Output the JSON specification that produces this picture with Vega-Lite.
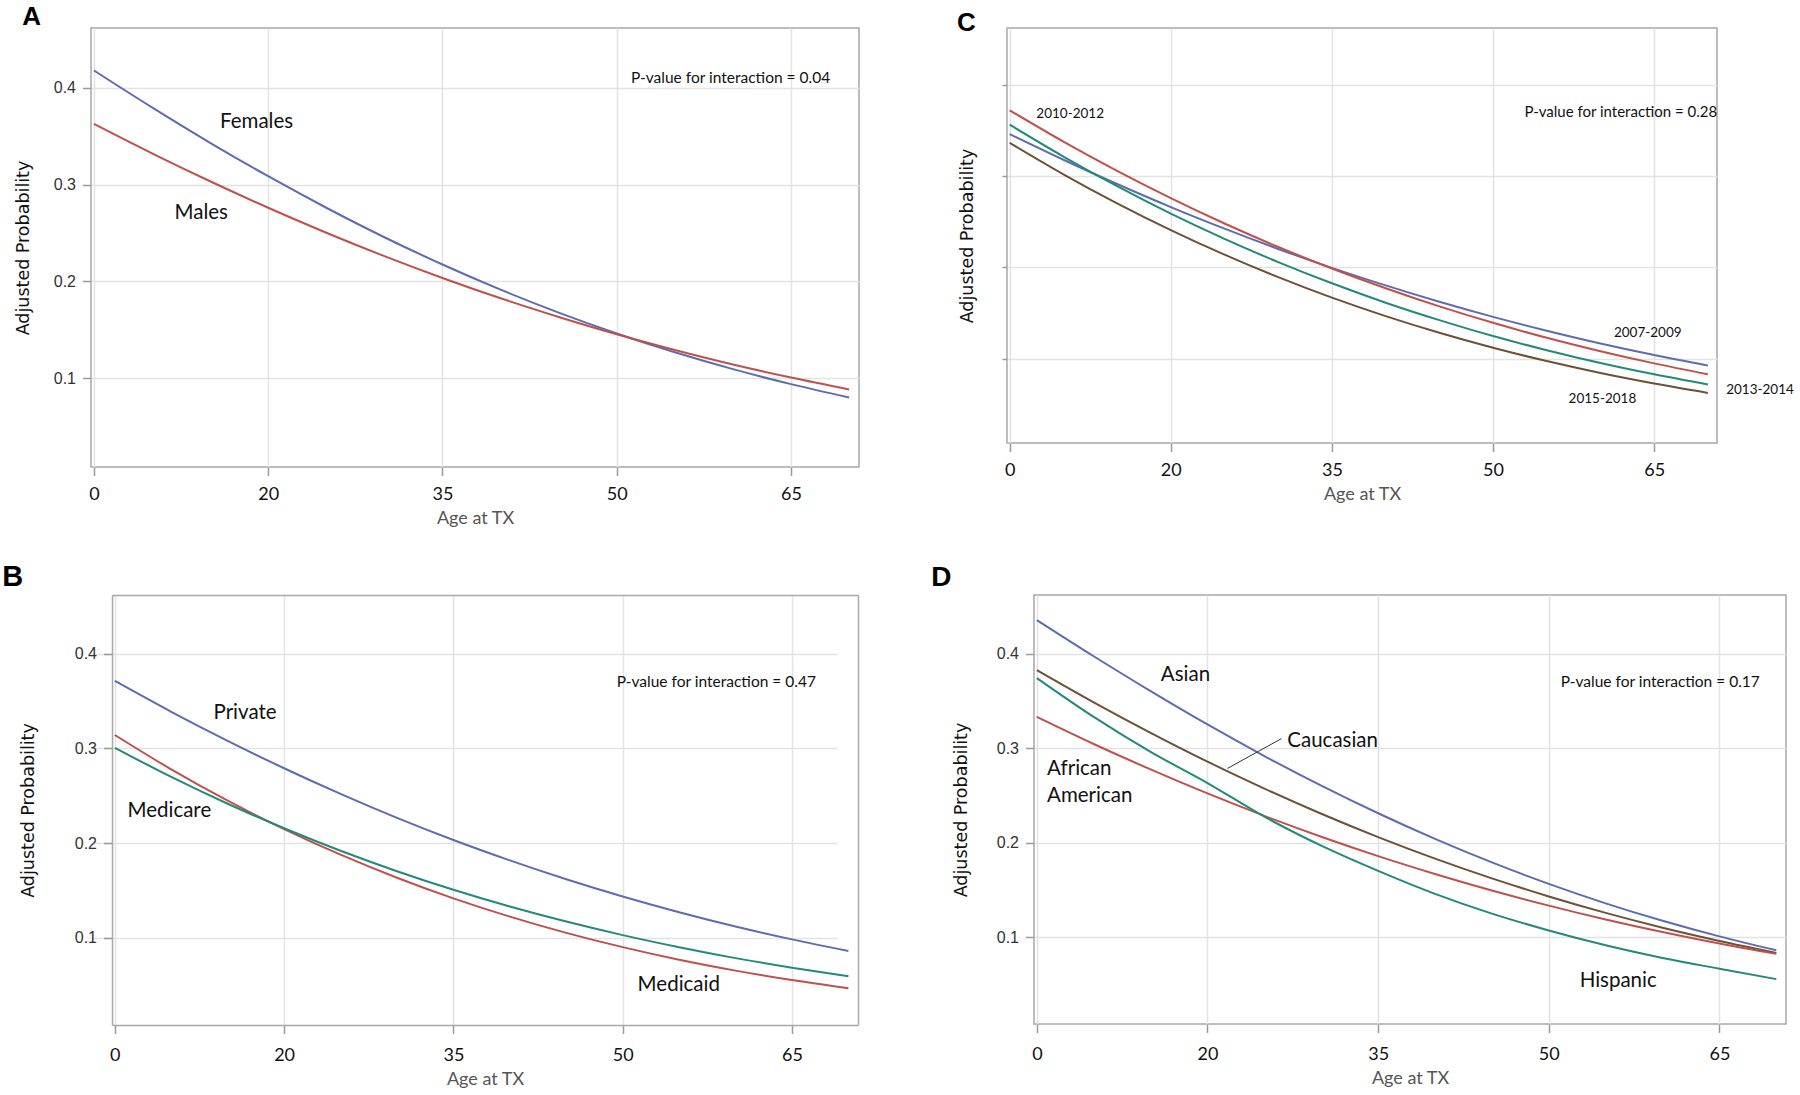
{
  "$schema": "https://vega.github.io/schema/vega-lite/v6.json",
  "background": "white",
  "padding": {"left": 2, "top": 3, "right": 0, "bottom": 0},
  "datasets": {
    "A": [
      {"age": 5, "Females": 0.4181, "Males": 0.3628},
      {"age": 10, "Females": 0.3799, "Males": 0.3324},
      {"age": 15, "Females": 0.3433, "Males": 0.3035},
      {"age": 20, "Females": 0.3087, "Males": 0.2761},
      {"age": 25, "Females": 0.2761, "Males": 0.2503},
      {"age": 30, "Females": 0.2456, "Males": 0.2261},
      {"age": 35, "Females": 0.2174, "Males": 0.2035},
      {"age": 40, "Females": 0.1914, "Males": 0.1825},
      {"age": 45, "Females": 0.1677, "Males": 0.1632},
      {"age": 50, "Females": 0.1461, "Males": 0.1453},
      {"age": 55, "Females": 0.1266, "Males": 0.1290},
      {"age": 60, "Females": 0.1092, "Males": 0.1140},
      {"age": 65, "Females": 0.0937, "Males": 0.1005},
      {"age": 70, "Females": 0.0799, "Males": 0.0882}
    ],
    "B": [
      {"age": 5, "Private": 0.3713, "Medicaid": 0.3142, "Medicare": 0.3007},
      {"age": 10, "Private": 0.3387, "Medicaid": 0.2779, "Medicare": 0.2699},
      {"age": 15, "Private": 0.3080, "Medicaid": 0.2448, "Medicare": 0.2416},
      {"age": 20, "Private": 0.2791, "Medicaid": 0.2149, "Medicare": 0.2157},
      {"age": 25, "Private": 0.2520, "Medicaid": 0.1878, "Medicare": 0.1920},
      {"age": 30, "Private": 0.2267, "Medicaid": 0.1635, "Medicare": 0.1704},
      {"age": 35, "Private": 0.2033, "Medicaid": 0.1417, "Medicare": 0.1508},
      {"age": 40, "Private": 0.1818, "Medicaid": 0.1224, "Medicare": 0.1331},
      {"age": 45, "Private": 0.1619, "Medicaid": 0.1053, "Medicare": 0.1172},
      {"age": 50, "Private": 0.1437, "Medicaid": 0.0902, "Medicare": 0.1029},
      {"age": 55, "Private": 0.1271, "Medicaid": 0.0769, "Medicare": 0.0901},
      {"age": 60, "Private": 0.1120, "Medicaid": 0.0654, "Medicare": 0.0786},
      {"age": 65, "Private": 0.0984, "Medicaid": 0.0554, "Medicare": 0.0685},
      {"age": 70, "Private": 0.0861, "Medicaid": 0.0467, "Medicare": 0.0594}
    ],
    "C": [
      {"age": 5, "2007-2009": 0.3460, "2010-2012": 0.3720, "2013-2014": 0.3562, "2015-2018": 0.3364},
      {"age": 10, "2007-2009": 0.3179, "2010-2012": 0.3377, "2013-2014": 0.3214, "2015-2018": 0.3020},
      {"age": 15, "2007-2009": 0.2913, "2010-2012": 0.3057, "2013-2014": 0.2889, "2015-2018": 0.2702},
      {"age": 20, "2007-2009": 0.2661, "2010-2012": 0.2759, "2013-2014": 0.2589, "2015-2018": 0.2409},
      {"age": 25, "2007-2009": 0.2425, "2010-2012": 0.2481, "2013-2014": 0.2313, "2015-2018": 0.2140},
      {"age": 30, "2007-2009": 0.2203, "2010-2012": 0.2225, "2013-2014": 0.2059, "2015-2018": 0.1894},
      {"age": 35, "2007-2009": 0.1996, "2010-2012": 0.1989, "2013-2014": 0.1827, "2015-2018": 0.1670},
      {"age": 40, "2007-2009": 0.1804, "2010-2012": 0.1773, "2013-2014": 0.1615, "2015-2018": 0.1468},
      {"age": 45, "2007-2009": 0.1625, "2010-2012": 0.1575, "2013-2014": 0.1424, "2015-2018": 0.1286},
      {"age": 50, "2007-2009": 0.1460, "2010-2012": 0.1395, "2013-2014": 0.1250, "2015-2018": 0.1122},
      {"age": 55, "2007-2009": 0.1309, "2010-2012": 0.1231, "2013-2014": 0.1095, "2015-2018": 0.0976},
      {"age": 60, "2007-2009": 0.1169, "2010-2012": 0.1084, "2013-2014": 0.0955, "2015-2018": 0.0845},
      {"age": 65, "2007-2009": 0.1042, "2010-2012": 0.0951, "2013-2014": 0.0831, "2015-2018": 0.0730},
      {"age": 70, "2007-2009": 0.0927, "2010-2012": 0.0832, "2013-2014": 0.0720, "2015-2018": 0.0628}
    ],
    "D": [
      {"age": 5, "Asian": 0.4355, "Caucasian": 0.3825, "African American": 0.3330, "Hispanic": 0.3741},
      {"age": 10, "Asian": 0.3972, "Caucasian": 0.3484, "African American": 0.3043, "Hispanic": 0.3330},
      {"age": 15, "Asian": 0.3603, "Caucasian": 0.3161, "African American": 0.2774, "Hispanic": 0.2960},
      {"age": 20, "Asian": 0.3250, "Caucasian": 0.2856, "African American": 0.2520, "Hispanic": 0.2630},
      {"age": 25, "Asian": 0.2916, "Caucasian": 0.2571, "African American": 0.2283, "Hispanic": 0.2274},
      {"age": 30, "Asian": 0.2602, "Caucasian": 0.2305, "African American": 0.2062, "Hispanic": 0.1967},
      {"age": 35, "Asian": 0.2310, "Caucasian": 0.2058, "African American": 0.1857, "Hispanic": 0.1700},
      {"age": 40, "Asian": 0.2039, "Caucasian": 0.1830, "African American": 0.1668, "Hispanic": 0.1457},
      {"age": 45, "Asian": 0.1790, "Caucasian": 0.1621, "African American": 0.1493, "Hispanic": 0.1248},
      {"age": 50, "Asian": 0.1563, "Caucasian": 0.1430, "African American": 0.1333, "Hispanic": 0.1070},
      {"age": 55, "Asian": 0.1357, "Caucasian": 0.1256, "African American": 0.1186, "Hispanic": 0.0913},
      {"age": 60, "Asian": 0.1172, "Caucasian": 0.1099, "African American": 0.1053, "Hispanic": 0.0779},
      {"age": 65, "Asian": 0.1007, "Caucasian": 0.0958, "African American": 0.0931, "Hispanic": 0.0665},
      {"age": 70, "Asian": 0.0860, "Caucasian": 0.0832, "African American": 0.0822, "Hispanic": 0.0555}
    ],
    "labels": [
      {"panel": "A", "text": "Females", "age": 19.0, "p": 0.365},
      {"panel": "A", "text": "Males", "age": 14.24, "p": 0.2705},
      {"panel": "B", "text": "Private", "age": 16.54, "p": 0.3369},
      {"panel": "B", "text": "Medicare", "age": 9.83, "p": 0.2344},
      {"panel": "B", "text": "Medicaid", "age": 54.97, "p": 0.0507},
      {"panel": "D", "text": "Asian", "age": 18.06, "p": 0.3777},
      {"panel": "D", "text": "Caucasian", "age": 31.0, "p": 0.308},
      {"panel": "D", "text": "Hispanic", "age": 56.1, "p": 0.0533}
    ],
    "leftlabels": [
      {"panel": "D", "text": "African", "age": 5.9, "p": 0.2775},
      {"panel": "D", "text": "American", "age": 5.9, "p": 0.2496}
    ],
    "years": [
      {"text": "2010-2012", "age": 10.63, "p": 0.368},
      {"text": "2007-2009", "age": 64.4, "p": 0.1288},
      {"text": "2013-2014", "age": 74.85, "p": 0.0664},
      {"text": "2015-2018", "age": 60.18, "p": 0.0566}
    ],
    "pvals": [
      {"panel": "A", "text": "P-value for interaction = 0.04", "age": 59.8, "p": 0.4107},
      {"panel": "B", "text": "P-value for interaction = 0.47", "age": 58.3, "p": 0.3704},
      {"panel": "C", "text": "P-value for interaction = 0.28", "age": 61.9, "p": 0.3705},
      {"panel": "D", "text": "P-value for interaction = 0.17", "age": 59.8, "p": 0.3695}
    ],
    "leader": [
      {"age": 21.76, "p": 0.2785, "age2": 26.5, "p2": 0.310}
    ]
  },
  "vconcat": [
    {
      "hconcat": [
        {
          "width": 768, "height": 439,
          "title": {"text": "A", "dx": -68.7, "offset": -1.9, "fontSize": 26},
          "encoding": {
            "x": {"field": "age", "type": "quantitative", "scale": {"domain": [4.75, 70.85], "nice": false, "zero": false},
                  "axis": {"values": [5, 20, 35, 50, 65], "labelExpr": "datum.value === 5 ? '0' : datum.label", "title": "Age at TX"}},
            "y": {"field": "p", "type": "quantitative", "scale": {"domain": [0.008, 0.462], "nice": false, "zero": false},
                  "axis": {"values": [0.1, 0.2, 0.3, 0.4], "format": ".1f", "title": "Adjusted Probability", "titlePadding": 21}}
          },
          "layer": [
            {"data": {"name": "A"}, "transform": [{"fold": ["Females", "Males"], "as": ["grp", "p"]}],
             "mark": {"type": "line"},
             "encoding": {"color": {"field": "grp", "type": "nominal", "legend": null,
               "scale": {"domain": ["Females", "Males", "2007-2009", "2010-2012", "2013-2014", "2015-2018", "Private", "Medicaid", "Medicare", "Asian", "African American", "Hispanic", "Caucasian"],
                         "range": ["#5d6cb0", "#c0504b", "#5d6cb0", "#c0504b", "#23897a", "#6e5035", "#5d6cb0", "#c0504b", "#23897a", "#5d6cb0", "#c0504b", "#23897a", "#6e5035"]}}}},
            {"data": {"name": "labels"}, "transform": [{"filter": "datum.panel === 'A'"}],
             "mark": {"type": "text", "fontSize": 20.5}, "encoding": {"text": {"field": "text"}}},
            {"data": {"name": "pvals"}, "transform": [{"filter": "datum.panel === 'A'"}],
             "mark": {"type": "text", "fontSize": 15.5}, "encoding": {"text": {"field": "text"}}}
          ]
        },
        {
          "width": 710, "height": 415,
          "title": {"text": "C", "dx": -50, "offset": -7.6, "fontSize": 26},
          "encoding": {
            "x": {"field": "age", "type": "quantitative", "scale": {"domain": [4.75, 70.85], "nice": false, "zero": false},
                  "axis": {"values": [5, 20, 35, 50, 65], "labelExpr": "datum.value === 5 ? '0' : datum.label", "title": "Age at TX"}},
            "y": {"field": "p", "type": "quantitative", "scale": {"domain": [0.008, 0.462], "nice": false, "zero": false},
                  "axis": {"values": [0.1, 0.2, 0.3, 0.4], "labels": false, "tickSize": 5, "title": "Adjusted Probability", "titlePadding": 25}}
          },
          "layer": [
            {"data": {"name": "C"}, "transform": [{"fold": ["2007-2009", "2010-2012", "2013-2014", "2015-2018"], "as": ["grp", "p"]}],
             "mark": {"type": "line"},
             "encoding": {"color": {"field": "grp", "type": "nominal", "legend": null,
               "scale": {"domain": ["Females", "Males", "2007-2009", "2010-2012", "2013-2014", "2015-2018", "Private", "Medicaid", "Medicare", "Asian", "African American", "Hispanic", "Caucasian"],
                         "range": ["#5d6cb0", "#c0504b", "#5d6cb0", "#c0504b", "#23897a", "#6e5035", "#5d6cb0", "#c0504b", "#23897a", "#5d6cb0", "#c0504b", "#23897a", "#6e5035"]}}}},
            {"data": {"name": "years"},
             "mark": {"type": "text", "fontSize": 13.5}, "encoding": {"text": {"field": "text"}}},
            {"data": {"name": "pvals"}, "transform": [{"filter": "datum.panel === 'C'"}],
             "mark": {"type": "text", "fontSize": 15}, "encoding": {"text": {"field": "text"}}}
          ]
        }
      ],
      "spacing": 96
    },
    {
      "hconcat": [
        {
          "width": 767, "height": 430,
          "view": {"stroke": null},
          "title": {"text": "B", "dx": -88.7, "offset": 3.5, "fontSize": 29},
          "resolve": {"axis": {"x": "independent", "y": "independent"}},
          "layer": [
            {"data": {"name": "B"}, "transform": [{"fold": ["Private", "Medicaid", "Medicare"], "as": ["grp", "p"]}],
             "mark": {"type": "line"},
             "encoding": {
               "x": {"field": "age", "type": "quantitative", "scale": {"domain": [4.75, 70.85], "range": [21, 767], "nice": false, "zero": false},
                     "axis": {"values": [5, 20, 35, 50, 65], "labelExpr": "datum.value === 5 ? '0' : datum.label", "title": "Age at TX", "labelPadding": 13,
                              "domain": true, "domainColor": "#a8a8a8", "domainWidth": 1.5}},
               "y": {"field": "p", "type": "quantitative", "scale": {"domain": [0.008, 0.462], "nice": false, "zero": false},
                     "axis": {"values": [0.1, 0.2, 0.3, 0.4], "format": ".1f", "title": "Adjusted Probability", "titlePadding": 37,
                              "offset": -21, "grid": false, "domain": true, "domainColor": "#a8a8a8", "domainWidth": 1.5}},
               "color": {"field": "grp", "type": "nominal", "legend": null,
               "scale": {"domain": ["Females", "Males", "2007-2009", "2010-2012", "2013-2014", "2015-2018", "Private", "Medicaid", "Medicare", "Asian", "African American", "Hispanic", "Caucasian"],
                         "range": ["#5d6cb0", "#c0504b", "#5d6cb0", "#c0504b", "#23897a", "#6e5035", "#5d6cb0", "#c0504b", "#23897a", "#5d6cb0", "#c0504b", "#23897a", "#6e5035"]}}}},
            {"data": {"name": "labels"}, "transform": [{"filter": "datum.panel === 'B'"}],
             "mark": {"type": "text", "fontSize": 20.5},
             "encoding": {
               "x": {"field": "age", "type": "quantitative",
                     "axis": {"orient": "top", "labels": false, "ticks": false, "grid": false, "title": null,
                              "domain": true, "domainColor": "#a8a8a8", "domainWidth": 1.5}},
               "y": {"field": "p", "type": "quantitative",
                     "axis": {"orient": "right", "values": [0.1, 0.2, 0.3, 0.4], "labels": false, "ticks": false, "grid": true, "title": null,
                              "domain": true, "domainColor": "#a8a8a8", "domainWidth": 1.5}},
               "text": {"field": "text"}}},
            {"data": {"name": "pvals"}, "transform": [{"filter": "datum.panel === 'B'"}],
             "mark": {"type": "text", "fontSize": 15.5},
             "encoding": {
               "x": {"field": "age", "type": "quantitative", "axis": null},
               "y": {"field": "p", "type": "quantitative", "axis": null},
               "text": {"field": "text"}}}
          ]
        },
        {
          "width": 752, "height": 429,
          "title": {"text": "D", "dx": -102.7, "offset": 2.9, "fontSize": 28},
          "encoding": {
            "x": {"field": "age", "type": "quantitative", "scale": {"domain": [4.75, 70.85], "nice": false, "zero": false},
                  "axis": {"values": [5, 20, 35, 50, 65], "labelExpr": "datum.value === 5 ? '0' : datum.label", "title": "Age at TX", "labelPadding": 13}},
            "y": {"field": "p", "type": "quantitative", "scale": {"domain": [0.008, 0.462], "nice": false, "zero": false},
                  "axis": {"values": [0.1, 0.2, 0.3, 0.4], "format": ".1f", "title": "Adjusted Probability", "titlePadding": 26}}
          },
          "layer": [
            {"data": {"name": "D"}, "transform": [{"fold": ["Asian", "Caucasian", "African American", "Hispanic"], "as": ["grp", "p"]}],
             "mark": {"type": "line"},
             "encoding": {"color": {"field": "grp", "type": "nominal", "legend": null,
               "scale": {"domain": ["Females", "Males", "2007-2009", "2010-2012", "2013-2014", "2015-2018", "Private", "Medicaid", "Medicare", "Asian", "African American", "Hispanic", "Caucasian"],
                         "range": ["#5d6cb0", "#c0504b", "#5d6cb0", "#c0504b", "#23897a", "#6e5035", "#5d6cb0", "#c0504b", "#23897a", "#5d6cb0", "#c0504b", "#23897a", "#6e5035"]}}}},
            {"data": {"name": "leader"}, "mark": {"type": "rule", "color": "#333333", "strokeWidth": 1},
             "encoding": {"x2": {"field": "age2"}, "y2": {"field": "p2"}}},
            {"data": {"name": "labels"}, "transform": [{"filter": "datum.panel === 'D'"}],
             "mark": {"type": "text", "fontSize": 20.5}, "encoding": {"text": {"field": "text"}}},
            {"data": {"name": "leftlabels"},
             "mark": {"type": "text", "fontSize": 20.5, "align": "left"}, "encoding": {"text": {"field": "text"}}},
            {"data": {"name": "pvals"}, "transform": [{"filter": "datum.panel === 'D'"}],
             "mark": {"type": "text", "fontSize": 15.5}, "encoding": {"text": {"field": "text"}}}
          ]
        }
      ],
      "spacing": 72
    }
  ],
  "spacing": 34,
  "config": {
    "view": {"stroke": "#a8a8a8", "strokeWidth": 1.5},
    "line": {"strokeWidth": 2, "interpolate": "monotone"},
    "text": {"font": "Lato", "color": "#111111", "baseline": "middle", "align": "center"},
    "title": {"font": "Liberation Sans", "fontWeight": "bold", "color": "#000000", "anchor": "start", "frame": "group", "baseline": "alphabetic"},
    "axis": {"domain": false, "grid": true, "gridColor": "#e3e3e3", "gridWidth": 1.5, "tickColor": "#9a9a9a", "tickWidth": 1.5, "tickSize": 8.5, "labelFlush": false, "labelOverlap": false},
    "axisX": {"labelFont": "Lato", "labelFontSize": 18, "labelColor": "#111111", "labelPadding": 9.5, "titleFont": "Lato", "titleFontSize": 18, "titleFontWeight": "normal", "titleColor": "#555555", "titlePadding": 6},
    "axisY": {"labelFont": "Liberation Sans", "labelFontSize": 16, "labelColor": "#333333", "labelPadding": 7, "titleFont": "DejaVu Sans", "titleFontSize": 17.5, "titleFontWeight": "normal", "titleColor": "#111111"}
  }
}
